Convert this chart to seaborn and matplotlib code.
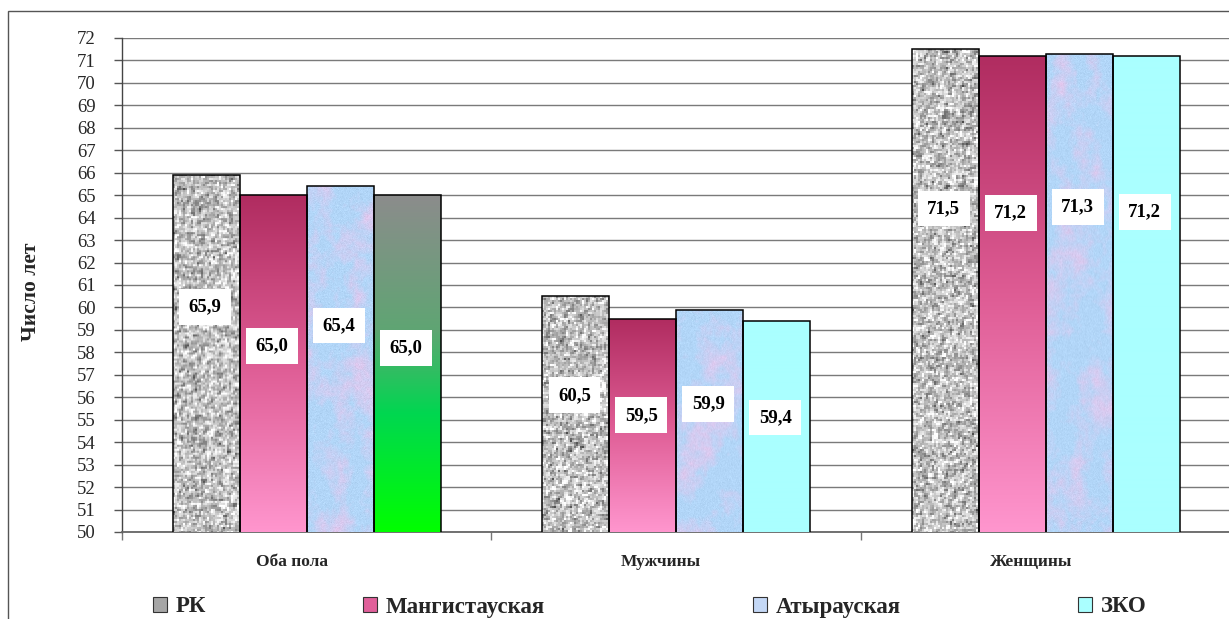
import numpy as np
import pandas as pd
import matplotlib
matplotlib.use("Agg")
import matplotlib.pyplot as plt
import matplotlib.transforms as mtransforms
from matplotlib.patches import Patch, Rectangle
import seaborn as sns

# ---- data -------------------------------------------------------------
groups = ["Оба пола", "Мужчины", "Женщины"]
regions = ["РК", "Мангистауская", "Атырауская", "ЗКО"]
rk_values = [65.9, 60.5, 71.5]
mangistau_values = [65.0, 59.5, 71.2]
atyrau_values = [65.4, 59.9, 71.3]
zko_values = [65.0, 59.4, 71.2]
y_ticks = list(range(50, 73))
y_title = "Число лет"

series = [rk_values, mangistau_values, atyrau_values, zko_values]
df = pd.DataFrame(
    [(g, r, vals[i]) for r, vals in zip(regions, series) for i, g in enumerate(groups)],
    columns=["group", "region", "value"],
)

# ---- styling ------------------------------------------------------------
sns.set_theme(style="white")
plt.rcParams["font.family"] = ["Liberation Serif", "DejaVu Serif"]

W, H = 1229, 619
fig = plt.figure(figsize=(W / 100, H / 100), dpi=100)
ax = fig.add_axes([122 / W, 1 - 532 / H, 1108.5 / W, (532 - 38) / H])

legend_colors = ["#a6a6a6", "#e0609a", "#c4d8f6", "#aaffff"]
sns.barplot(data=df, x="group", y="value", hue="region", order=groups,
            hue_order=regions, palette=legend_colors, width=0.725,
            dodge=True, legend=False, ax=ax, zorder=3)

ymin, ymax = y_ticks[0], y_ticks[-1]
px_per_unit = (532 - 38) / (ymax - ymin)
rng = np.random.default_rng(7)


def upsample(a, rows, cols):
    r = np.linspace(0, a.shape[0] - 1, rows)
    c = np.linspace(0, a.shape[1] - 1, cols)
    r0 = np.clip(np.floor(r).astype(int), 0, a.shape[0] - 2)
    c0 = np.clip(np.floor(c).astype(int), 0, a.shape[1] - 2)
    fr = (r - r0)[:, None]
    fc = (c - c0)[None, :]
    top = a[r0][:, c0] * (1 - fc) + a[r0][:, c0 + 1] * fc
    bot = a[r0 + 1][:, c0] * (1 - fc) + a[r0 + 1][:, c0 + 1] * fc
    return top * (1 - fr) + bot * fr


def granite(rows, cols):
    n = rng.normal(size=(rows // 2 + 2, cols // 2 + 2))
    n = (n + 0.5 * np.roll(n, 1, 0) + 0.5 * np.roll(n, 1, 1)) / 2
    n = (n - n.mean()) / n.std()
    g = np.clip(0.76 + 0.14 * n, 0.3, 1.0)
    g = np.repeat(np.repeat(g, 2, 0), 2, 1)[:rows, :cols]
    return np.dstack([g, g, g])


def marble(rows, cols):
    t1 = upsample(rng.random((max(rows // 30, 2) + 2, cols // 22 + 2)), rows, cols)
    t2 = upsample(rng.random((max(rows // 10, 2) + 2, cols // 8 + 2)), rows, cols)
    t3 = upsample(rng.random((rows // 3 + 2, cols // 3 + 2)), rows, cols)
    p = np.clip((0.55 * t1 + 0.3 * t2 + 0.15 * t3 - 0.42) * 2.2, 0, 1)[..., None]
    blue = np.array([178, 214, 248]) / 255
    pink = np.array([226, 200, 238]) / 255
    img = blue * (1 - p) + pink * p
    fine = rng.normal(0, 0.015, size=(rows, cols))[..., None]
    return np.clip(img + fine, 0, 1)


def vgrad(rows, cols, stops):
    t = np.linspace(0, 1, rows)
    pos = [s[0] for s in stops]
    chans = [np.interp(t, pos, [s[1][k] / 255 for s in stops]) for k in range(3)]
    col = np.stack(chans, axis=1)[:, None, :]
    return np.repeat(col, cols, axis=1)


mangistau_stops = [(0, (176, 44, 96)), (0.5, (222, 92, 148)), (1, (255, 150, 206))]
green_stops = [(0, (140, 140, 140)), (0.4, (95, 165, 115)), (0.65, (0, 215, 80)), (1, (0, 255, 0))]
cyan = (170, 255, 255)

# placement of the value boxes, as a fraction of the visible bar height
label_frac = [
    [0.63, 0.58, 0.67],
    [0.553, 0.547, 0.67],
    [0.597, 0.576, 0.68],
    [0.547, 0.543, 0.672],
]

for si, cont in enumerate(ax.containers):
    for gi, bar in enumerate(cont.patches):
        v = series[si][gi]
        x0 = bar.get_x()
        w = bar.get_width()
        rows = max(int(round((v - ymin) * px_per_unit)), 4)
        cols = 67
        if si == 0:
            img = granite(rows, cols)
        elif si == 1:
            img = vgrad(rows, cols, mangistau_stops)
        elif si == 2:
            img = marble(rows, cols)
        else:
            img = vgrad(rows, cols, green_stops) if gi == 0 else vgrad(rows, cols, [(0, cyan), (1, cyan)])
        im = ax.imshow(img, extent=(x0, x0 + w, ymin, v), origin="upper",
                       aspect="auto", interpolation="bilinear", zorder=2.8)
        im.set_clip_path(bar)
        bar.set_facecolor("none")
        bar.set_edgecolor("black")
        bar.set_linewidth(1.1)
        bar.set_zorder(3)

        ly = ymin + label_frac[si][gi] * (v - ymin)
        ax.text(x0 + w / 2 - 0.004, ly, f"{v:.1f}".replace(".", ","),
                ha="center", va="center", fontsize=13.5, fontweight="bold",
                color="black", zorder=5,
                bbox=dict(boxstyle="square,pad=0.5", fc="white", ec="none"))

# ---- axes ---------------------------------------------------------------
ax.set_xlim(-0.5, 2.5)
ax.set_ylim(ymin, ymax)
ax.set_yticks(y_ticks)
ax.set_yticklabels([str(t) for t in y_ticks], fontsize=13.5)
ax.yaxis.grid(True, color="#7a7a7a", linewidth=1.0)
ax.xaxis.grid(False)
ax.set_axisbelow(True)
ax.tick_params(axis="y", direction="out", length=6, width=1, color="#555555",
               pad=13, left=True)

ax.set_xticks([-0.5, 0.5, 1.5, 2.5])
ax.set_xticklabels([])
ax.set_xticks([0, 1, 2], minor=True)
ax.set_xticklabels(groups, minor=True, fontsize=12.5, fontweight="bold")
ax.tick_params(axis="x", which="major", direction="out", length=6, width=1,
               color="#777777", bottom=True)
ax.tick_params(axis="x", which="minor", length=0, pad=16)
shift = mtransforms.ScaledTranslation(-15 / 100, 0, fig.dpi_scale_trans)
for lbl in ax.get_xticklabels(minor=True):
    lbl.set_transform(lbl.get_transform() + shift)
ax.set_xlabel("")
ax.set_ylabel("")

for side in ("top", "right"):
    ax.spines[side].set_visible(False)
ax.spines["left"].set_color("#444444")
ax.spines["left"].set_linewidth(1.0)
ax.spines["bottom"].set_color("#666666")
ax.spines["bottom"].set_linewidth(1.3)

fig.text(31 / W, 1 - 292 / H, y_title, rotation=90, ha="center", va="center",
         fontsize=15.5, fontweight="bold")

# outer frame of the chart area
fig.add_artist(Rectangle((8 / W, -0.5), 2.0, (1 - 11 / H) + 0.5,
                         transform=fig.transFigure, fill=False,
                         edgecolor="#555555", linewidth=1.0))

# ---- legend -------------------------------------------------------------
legend_x = [153, 363, 753, 1078]
for name, col, lx in zip(regions, legend_colors, legend_x):
    h = Patch(facecolor=col, edgecolor="#333333", linewidth=0.8)
    fig.legend(handles=[h], labels=[name], loc="center left",
               bbox_to_anchor=(lx / W, 1 - 607 / H), frameon=False,
               borderpad=0, borderaxespad=0, handlelength=0.6,
               handleheight=0.6, handletextpad=0.4,
               prop={"family": "Liberation Serif", "weight": "bold", "size": 16.5})

fig.savefig("out.png", dpi=100)
